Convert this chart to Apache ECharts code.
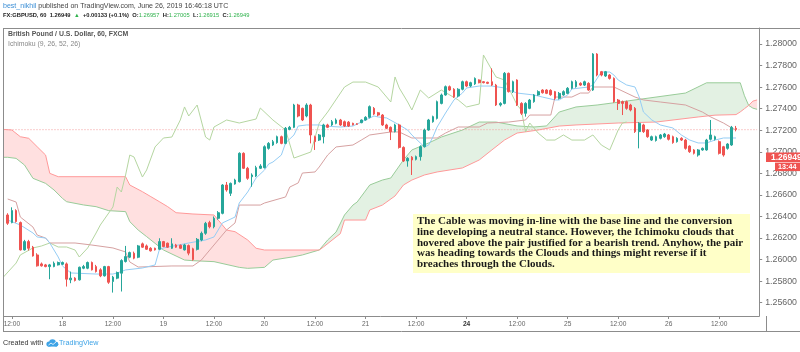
<!DOCTYPE html>
<html><head><meta charset="utf-8">
<script src="https://cdn.jsdelivr.net/npm/echarts@6/dist/echarts.min.js"></script>
<style>html,body{margin:0;padding:0;background:#fff}#c{width:800px;height:352px}</style>
</head><body><div id="c"></div>
<script>
// ---- categories (hourly bars, weekend skipped) ----
const dayHours = [['17',10,23],['18',0,23],['19',0,23],['20',0,23],['21',0,21],['23',22,23],['24',0,23],['25',0,23],['26',0,21]];
const categories = [];
dayHours.forEach(([d,a,b]) => { for (let h=a; h<=b; h++) categories.push(d + ' ' + String(h).padStart(2,'0') + ':00'); });

const xTickIndex  = [2,14,26,38,50,62,74,86,98,110,122,134,146,158,170];
const xTickLabels = ['12:00','18','12:00','19','12:00','20','12:00','21','12:00','24','12:00','25','12:00','26','12:00'];
const yTicks = [1.256,1.258,1.260,1.262,1.264,1.266,1.268,1.270,1.272,1.274,1.276,1.278,1.280];
const yMin = 1.254768, yMax = 1.281484;

// ---- candles [open, close, low, high], first one at bar index 1 ----
const firstCandle = 1;
const candles = [
[1.26414,1.26337,1.26322,1.26430],[1.26343,1.26455,1.26337,1.26485],[1.26455,1.26353,1.26343,1.26467],[1.26343,1.26090,1.26084,1.26353],
[1.26090,1.26167,1.26084,1.26183],[1.26167,1.26105,1.26084,1.26183],[1.26115,1.26034,1.26028,1.26127],[1.26043,1.25942,1.25935,1.26059],
[1.25960,1.25942,1.25935,1.25973],[1.25951,1.25935,1.25929,1.25960],[1.25935,1.25951,1.25818,1.25960],[1.25935,1.25966,1.25929,1.25982],
[1.25951,1.25973,1.25945,1.25982],[1.25957,1.25973,1.25951,1.25982],[1.25960,1.25818,1.25750,1.25973],[1.25812,1.25828,1.25781,1.25889],
[1.25828,1.25806,1.25797,1.25837],[1.25812,1.25929,1.25806,1.25935],[1.25920,1.25935,1.25911,1.25951],[1.25920,1.25973,1.25911,1.25982],
[1.25973,1.25905,1.25899,1.25982],[1.25935,1.25889,1.25880,1.25951],[1.25905,1.25849,1.25837,1.25920],[1.25849,1.25935,1.25843,1.25942],
[1.25935,1.25790,1.25775,1.25942],[1.25797,1.25837,1.25694,1.25849],[1.25828,1.25880,1.25818,1.25889],[1.25874,1.25991,1.25704,1.26003],
[1.25982,1.26028,1.25973,1.26127],[1.26022,1.26065,1.26013,1.26074],[1.26059,1.26013,1.26003,1.26074],[1.26022,1.26127,1.26013,1.26136],
[1.26146,1.26115,1.26109,1.26158],[1.26127,1.26096,1.26090,1.26140],[1.26105,1.26081,1.26075,1.26115],[1.26105,1.26090,1.26084,1.26111],
[1.26096,1.26167,1.26090,1.26198],[1.26167,1.26121,1.26115,1.26173],[1.26152,1.26115,1.26109,1.26158],[1.26105,1.26146,1.26099,1.26198],
[1.26136,1.26115,1.26109,1.26146],[1.26133,1.26105,1.26099,1.26140],[1.26090,1.26136,1.26084,1.26146],[1.26130,1.26060,1.26040,1.26140],
[1.26100,1.26000,1.25990,1.26110],[1.26095,1.26188,1.26085,1.26200],[1.26182,1.26244,1.26170,1.26260],[1.26244,1.26336,1.26230,1.26350],
[1.26343,1.26305,1.26290,1.26360],[1.26305,1.26383,1.26290,1.26400],[1.26383,1.26435,1.26370,1.26450],[1.26429,1.26692,1.26420,1.26700],
[1.26692,1.26646,1.26630,1.26720],[1.26615,1.26707,1.26590,1.26715],[1.26701,1.26738,1.26695,1.26750],[1.26723,1.26986,1.26715,1.26995],
[1.26986,1.26847,1.26840,1.26995],[1.26847,1.26754,1.26740,1.26860],[1.26769,1.26785,1.26676,1.26800],[1.26775,1.26853,1.26765,1.26870],
[1.26847,1.26868,1.26840,1.26885],[1.26853,1.27047,1.26845,1.27060],[1.27032,1.27078,1.27020,1.27090],[1.27063,1.27094,1.27055,1.27110],
[1.27085,1.27140,1.27075,1.27150],[1.27140,1.27078,1.27070,1.27150],[1.27078,1.27218,1.27070,1.27230],[1.27208,1.27227,1.27200,1.27240],
[1.27227,1.27434,1.27220,1.27445],[1.27434,1.27332,1.27320,1.27445],[1.27403,1.27295,1.27285,1.27410],[1.27332,1.27434,1.27320,1.27450],
[1.27434,1.27156,1.27078,1.27445],[1.27140,1.27094,1.27017,1.27150],[1.27109,1.27156,1.27100,1.27165],[1.27140,1.27249,1.27078,1.27260],
[1.27249,1.27227,1.27220,1.27260],[1.27249,1.27279,1.27240,1.27295],[1.27264,1.27295,1.27255,1.27310],[1.27295,1.27249,1.27240,1.27305],
[1.27279,1.27239,1.27230,1.27290],[1.27275,1.27239,1.27230,1.27285],[1.27264,1.27250,1.27245,1.27270],[1.27260,1.27255,1.27250,1.27265],
[1.27270,1.27295,1.27265,1.27300],[1.27295,1.27320,1.27290,1.27330],[1.27320,1.27419,1.27310,1.27430],[1.27403,1.27350,1.27340,1.27415],
[1.27362,1.27341,1.27330,1.27370],[1.27341,1.27249,1.27240,1.27350],[1.27249,1.27218,1.27210,1.27260],[1.27227,1.27187,1.27109,1.27235],
[1.27187,1.27249,1.27180,1.27260],[1.27249,1.27041,1.27030,1.27260],[1.27041,1.26915,1.26905,1.27050],[1.26915,1.26940,1.26862,1.26950],
[1.26950,1.26924,1.26785,1.26960],[1.26930,1.26955,1.26920,1.26965],[1.26955,1.27047,1.26918,1.27060],[1.27047,1.27202,1.27040,1.27215],
[1.27202,1.27295,1.27195,1.27305],[1.27279,1.27326,1.27270,1.27335],[1.27310,1.27465,1.27300,1.27475],[1.27449,1.27527,1.27440,1.27540],
[1.27527,1.27604,1.27520,1.27615],[1.27604,1.27573,1.27565,1.27615],[1.27580,1.27510,1.27500,1.27590],[1.27517,1.27580,1.27505,1.27590],
[1.27580,1.27650,1.27570,1.27660],[1.27650,1.27610,1.27600,1.27660],[1.27610,1.27641,1.27600,1.27650],[1.27630,1.27681,1.27620,1.27690],
[1.27666,1.27641,1.27635,1.27672],[1.27650,1.27641,1.27635,1.27655],[1.27645,1.27635,1.27628,1.27650],[1.27650,1.27619,1.27610,1.27774],
[1.27619,1.27434,1.27425,1.27630],[1.27434,1.27449,1.27420,1.27460],[1.27449,1.27728,1.27440,1.27740],[1.27728,1.27558,1.27550,1.27735],
[1.27558,1.27650,1.27545,1.27660],[1.27666,1.27434,1.27425,1.27672],[1.27449,1.27357,1.27341,1.27460],[1.27357,1.27449,1.27326,1.27460],
[1.27403,1.27480,1.27395,1.27490],[1.27465,1.27527,1.27455,1.27535],[1.27527,1.27558,1.27520,1.27570],[1.27573,1.27548,1.27540,1.27580],
[1.27573,1.27542,1.27535,1.27580],[1.27570,1.27530,1.27520,1.27580],[1.27558,1.27496,1.27480,1.27565],[1.27496,1.27542,1.27485,1.27555],
[1.27527,1.27558,1.27520,1.27570],[1.27542,1.27589,1.27535,1.27600],[1.27589,1.27650,1.27580,1.27660],[1.27604,1.27650,1.27595,1.27665],
[1.27635,1.27619,1.27610,1.27645],[1.27619,1.27650,1.27610,1.27660],[1.27635,1.27573,1.27565,1.27645],[1.27573,1.27907,1.27565,1.27915],
[1.27907,1.27712,1.27700,1.27915],[1.27743,1.27712,1.27700,1.27750],[1.27703,1.27743,1.27695,1.27750],[1.27712,1.27681,1.27670,1.27720],
[1.27681,1.27465,1.27455,1.27690],[1.27480,1.27449,1.27388,1.27490],[1.27465,1.27449,1.27341,1.27475],[1.27465,1.27403,1.27390,1.27475],
[1.27434,1.27388,1.27375,1.27445],[1.27403,1.27187,1.27175,1.27415],[1.27187,1.27264,1.27032,1.27275],[1.27249,1.27187,1.27175,1.27260],
[1.27202,1.27140,1.27130,1.27210],[1.27109,1.27140,1.27100,1.27150],[1.27105,1.27140,1.27095,1.27150],[1.27125,1.27156,1.27115,1.27165],
[1.27140,1.27165,1.27130,1.27175],[1.27156,1.27116,1.27105,1.27165],[1.27140,1.27085,1.27075,1.27150],[1.27094,1.27125,1.27085,1.27135],
[1.27125,1.27109,1.27100,1.27135],[1.27109,1.27032,1.27020,1.27120],[1.27053,1.27001,1.26990,1.27060],[1.27017,1.26986,1.26975,1.27025],
[1.26970,1.27017,1.26955,1.27025],[1.27017,1.27032,1.27010,1.27040],[1.27017,1.27109,1.27010,1.27120],[1.27116,1.27156,1.27105,1.27295],
[1.27116,1.27140,1.27105,1.27150],[1.27094,1.26986,1.26975,1.27105],[1.27047,1.26970,1.26955,1.27055],[1.27032,1.27072,1.27020,1.27080],
[1.27063,1.27227,1.27055,1.27240],[1.27218,1.27208,1.27190,1.27240]
];

// ---- Ichimoku lines, [bar index, price] vertices ----
const conversionLine = [[1,1.26367],[4,1.26321],[7,1.26247],[8,1.26210],[10,1.26200],[11,1.26154],[13,1.26024],[14,1.25941],[16,1.25876],[22,1.25866],[26,1.25866],[27,1.25876],[29,1.25904],[33,1.25922],[36,1.25950],[37,1.26089],[38,1.26108],[44,1.26154],[48,1.26182],[50,1.26210],[52,1.26340],[55,1.26395],[56,1.26525],[58,1.26627],[60,1.26757],[62,1.26831],[63,1.26887],[64,1.26905],[66,1.26970],[67,1.27082],[69,1.27156],[70,1.27239],[72,1.27249],[75,1.27249],[76,1.27239],[80,1.27230],[83,1.27239],[86,1.27295],[88,1.27332],[89,1.27323],[91,1.27314],[94,1.27249],[96,1.27202],[97,1.27156],[99,1.27082],[100,1.27045],[101,1.27063],[102,1.27137],[103,1.27230],[105,1.27360],[107,1.27481],[109,1.27545],[110,1.27592],[113,1.27610],[116,1.27610],[119,1.27592],[120,1.27573],[122,1.27545],[126,1.27527],[128,1.27508],[131,1.27481],[132,1.27481],[134,1.27527],[135,1.27583],[139,1.27601],[140,1.27620],[142,1.27740],[144,1.27740],[145,1.27712],[146,1.27666],[148,1.27620],[150,1.27601],[151,1.27508],[152,1.27369],[154,1.27295],[156,1.27249],[159,1.27221],[161,1.27156],[163,1.27109],[165,1.27082],[167,1.27082],[169,1.27109],[171,1.27128],[174,1.27128]];
const baseLine = [[1,1.26562],[3,1.26534],[4,1.26395],[7,1.26302],[8,1.26228],[10,1.26200],[11,1.26154],[17,1.26154],[21,1.26135],[26,1.26108],[29,1.26071],[30,1.25978],[32,1.25931],[40,1.25941],[45,1.25941],[47,1.25996],[49,1.26089],[53,1.26275],[55,1.26340],[56,1.26506],[61,1.26506],[62,1.26525],[67,1.26581],[68,1.26673],[70,1.26711],[71,1.26803],[74,1.26813],[75,1.26859],[77,1.26970],[79,1.27045],[83,1.27063],[85,1.27109],[87,1.27156],[92,1.27184],[94,1.27184],[97,1.27128],[103,1.27128],[105,1.27174],[108,1.27230],[113,1.27230],[115,1.27267],[120,1.27276],[124,1.27295],[125,1.27341],[130,1.27341],[131,1.27508],[135,1.27508],[137,1.27545],[139,1.27545],[140,1.27601],[145,1.27601],[150,1.27508],[152,1.27481],[156,1.27462],[162,1.27434],[166,1.27369],[168,1.27323],[171,1.27267],[173,1.27221],[174,1.27202]];
const laggingSpan = [[0,1.25839],[3,1.25968],[4,1.26043],[7,1.26108],[9,1.26126],[11,1.26154],[13,1.26117],[15,1.26117],[17,1.26089],[18,1.26024],[20,1.26108],[22,1.26247],[23,1.26321],[26,1.26488],[27,1.26673],[28,1.26627],[29,1.26785],[30,1.26970],[31,1.26952],[33,1.26766],[34,1.26831],[36,1.27045],[38,1.27128],[40,1.27137],[42,1.27295],[43,1.27416],[44,1.27332],[46,1.27434],[48,1.27137],[49,1.27109],[50,1.27230],[53,1.27295],[56,1.27267],[60,1.27304],[61,1.27406],[64,1.27295],[67,1.27202],[69,1.26942],[73,1.26998],[75,1.27267],[77,1.27369],[81,1.27601],[83,1.27647],[86,1.27647],[89,1.27601],[92,1.27462],[93,1.27694],[94,1.27592],[96,1.27462],[97,1.27388],[99,1.27573],[101,1.27499],[104,1.27573],[108,1.27481],[110,1.27416],[113,1.27443],[114,1.27898],[116,1.27759],[117,1.27694],[119,1.27666],[120,1.27592],[122,1.27434],[123,1.27388],[124,1.27184],[125,1.27267],[127,1.27174],[129,1.27109],[131,1.27109],[133,1.27156],[135,1.27109],[138,1.27109],[140,1.27156],[142,1.27063],[144,1.27017],[146,1.27202],[147,1.27267],[148,1.27276]];
const leadingSpanA = [[0,1.26949],[1,1.26949],[3,1.26939],[5,1.26877],[7,1.26754],[10,1.26707],[12,1.26646],[14,1.26568],[15,1.26537],[19,1.26507],[22,1.26491],[25,1.26454],[29,1.26445],[30,1.26352],[32,1.26274],[34,1.26213],[36,1.26151],[38,1.26089],[41,1.26033],[43,1.25996],[45,1.25990],[50,1.25981],[56,1.25928],[58,1.25919],[62,1.25928],[64,1.25996],[69,1.26027],[71,1.26043],[75,1.26089],[77,1.26182],[79,1.26256],[81,1.26414],[83,1.26506],[84,1.26534],[87,1.26692],[90,1.26738],[92,1.26757],[95,1.26924],[97,1.27017],[101,1.27082],[104,1.27137],[109,1.27202],[113,1.27276],[117,1.27276],[122,1.27240],[126,1.27230],[129,1.27240],[132,1.27369],[136,1.27416],[141,1.27434],[150,1.27481],[162,1.27545],[167,1.27640],[175,1.27640],[176,1.27520],[177,1.27430],[178,1.27405],[179,1.27394]];
const leadingSpanB = [[0,1.27208],[2,1.27202],[4,1.27140],[6,1.27125],[8,1.27047],[10,1.26970],[11,1.26800],[13,1.26769],[29,1.26769],[30,1.26692],[33,1.26630],[35,1.26584],[37,1.26538],[39,1.26491],[41,1.26435],[45,1.26423],[50,1.26414],[53,1.26274],[55,1.26259],[58,1.26182],[60,1.26105],[62,1.26089],[75,1.26089],[76,1.26117],[79,1.26210],[80,1.26240],[81,1.26367],[86,1.26367],[87,1.26460],[90,1.26506],[93,1.26590],[95,1.26692],[97,1.26738],[100,1.26785],[103,1.26813],[109,1.26850],[113,1.26924],[116,1.27017],[119,1.27109],[122,1.27174],[127,1.27202],[132,1.27239],[136,1.27249],[146,1.27267],[155,1.27276],[165,1.27323],[169,1.27340],[174,1.27345],[175,1.27370],[176,1.27400],[177,1.27430],[178,1.27470],[179,1.27481]];
// cloud segments between crossings: [fromIndex, toIndex, bullish?]
const cloudSegments = [[0,75,false],[75,177,true],[177,179,false]];
const lastPriceLine = [1.27205];
const lastPrice = 1.26949;
const countdown = '13:44';
const noteLines = [
 'The Cable was moving in-line with the base line and the conversion',
 'line developing a neutral stance. However, the Ichimoku clouds that',
 'hovered above the pair justified for a bearish trend. Anyhow, the pair',
 'was heading towards the Clouds and things might reverse if it',
 'breaches through the Clouds.'
];

// ---- chart ----
const UP = '#26a69a', DOWN = '#ef5350';
const FONT = '"Liberation Sans", Arial, sans-serif';
const chart = echarts.init(document.getElementById('c'), null, {renderer:'canvas', width:800, height:352});
const tickSet = new Set(xTickIndex);
const tickLabel = {}; xTickIndex.forEach((ix,k)=>tickLabel[ix]=xTickLabels[k]);
const lastIndex = categories.length - 1;

function pick(line, a, b){ return line.filter(p => p[0] >= a && p[0] <= b); }

const lineSeries = (data, color, z, type) => ({
  type:'line', data, symbol:'none', silent:true, z, animation:false,
  lineStyle:{color, width:1, type: type || 'solid'}, clip:true
});

const option = {
  animation:false,
  backgroundColor:'#ffffff',
  grid:{left:1.38, right:34, top:28, bottom:36, containLabel:false},
  xAxis:{
    type:'category', data:categories, boundaryGap:true,
    axisLine:{show:true, lineStyle:{color:'#8c8c8c', width:1}},
    axisTick:{show:true, alignWithLabel:true, length:3, interval:(i)=>tickSet.has(i), lineStyle:{color:'#8c8c8c'}},
    axisLabel:{interval:(i)=>tickSet.has(i), formatter:(v,i)=> i===110 ? '{b|24}' : (tickLabel[i]||''),
      fontSize:6.6, color:'#666', margin:5, fontFamily:FONT,
      rich:{b:{fontWeight:'bold', color:'#333', fontSize:6.6, fontFamily:FONT}}},
    splitLine:{show:false}
  },
  yAxis:{
    type:'value', position:'right', min:yMin, max:yMax, scale:true,
    axisLine:{show:true, lineStyle:{color:'#8c8c8c', width:1}},
    axisTick:{show:true, length:3, customValues:yTicks, lineStyle:{color:'#8c8c8c'}},
    axisLabel:{customValues:yTicks, formatter:(v)=>v.toFixed(5), fontSize:8.8, color:'#666', margin:6, fontFamily:FONT},
    splitLine:{show:false}
  },
  series:[
    { type:'custom', silent:true, z:1, clip:true,
      data:[[0, yMin]], encode:{x:0, y:1},
      renderItem:(params, api) => {
        const children = cloudSegments.map(([a,b,bull]) => {
          const top = bull ? pick(leadingSpanA,a,b) : pick(leadingSpanB,a,b);
          const bot = bull ? pick(leadingSpanB,a,b) : pick(leadingSpanA,a,b);
          const pts = top.concat(bot.slice().reverse()).map(p => api.coord(p));
          return {type:'polygon', shape:{points:pts}, style:{fill: bull ? 'rgba(0,128,0,0.11)' : 'rgba(255,0,0,0.12)', stroke:'none'}};
        });
        return {type:'group', children};
      }
    },
    lineSeries(leadingSpanA, '#99cc99', 2),
    lineSeries(leadingSpanB, '#ff9999', 2),
    lineSeries(lastPriceLine.length ? [[0,lastPriceLine[0]],[lastIndex,lastPriceLine[0]]] : [], '#f29a9a', 2, [1,2]),
    lineSeries(laggingSpan, '#b5d6a1', 3),
    lineSeries(baseLine, '#d6a1a1', 3),
    lineSeries(conversionLine, '#95cdf5', 3),
    { type:'candlestick', z:5, silent:true,
      data: candles.map((c,k)=>[firstCandle+k, c[0], c[1], c[2], c[3]]),
      encode:{x:0, y:[1,2,3,4]},
      barWidth:2.2,
      itemStyle:{color:UP, color0:DOWN, borderColor:UP, borderColor0:DOWN, borderWidth:1}
    }
  ]
};
chart.setOption(option);

const py = chart.convertToPixel({yAxisIndex:0}, lastPrice);
const g = [];
// mask the bar area left of the frame
g.push({type:'rect', shape:{x:0,y:26,width:3,height:295}, style:{fill:'#fff'}, z:50});
// frame
const FR = '#8c8c8c';
g.push({type:'line', shape:{x1:3,y1:28.5,x2:800,y2:28.5}, style:{stroke:FR, lineWidth:1}, z:60});
g.push({type:'line', shape:{x1:3.5,y1:28,x2:3.5,y2:332}, style:{stroke:FR, lineWidth:1}, z:60});
g.push({type:'line', shape:{x1:3,y1:331.5,x2:800,y2:331.5}, style:{stroke:FR, lineWidth:1}, z:60});
g.push({type:'line', shape:{x1:766.5,y1:316,x2:766.5,y2:332}, style:{stroke:FR, lineWidth:1}, z:60});
// header
g.push({type:'text', x:3, y:6, z:60, style:{text:'{u|best_nikhil}{t| published on TradingView.com, June 26, 2019 16:46:18 UTC}',
  verticalAlign:'middle', textVerticalAlign:'middle',
  rich:{u:{fill:'#3c8fd6', fontSize:7.05, fontFamily:FONT}, t:{fill:'#444', fontSize:7.05, fontFamily:FONT}}}});
g.push({type:'text', x:3, y:15.5, z:60, style:{text:'{b|FX:GBPUSD, 60} {n|1.26949} {g|▲} {b|+0.00133 (+0.1%)} {b|O:}{g|1.26957} {b|H:}{g|1.27005} {b|L:}{g|1.26915} {b|C:}{g|1.26949}',
  verticalAlign:'middle', textVerticalAlign:'middle',
  rich:{b:{fill:'#222', fontSize:5.75, fontWeight:'bold', fontFamily:FONT}, n:{fill:'#222', fontSize:5.75, fontWeight:'bold', fontFamily:FONT}, g:{fill:'#2fb24c', fontSize:5.75, fontFamily:FONT}}}});
g.push({type:'text', x:8, y:34.3, z:60, style:{text:'British Pound / U.S. Dollar, 60, FXCM', fill:'#555', font:'bold 6.9px '+FONT, verticalAlign:'middle', textVerticalAlign:'middle'}});
g.push({type:'text', x:8, y:43.6, z:60, style:{text:'Ichimoku (9, 26, 52, 26)', fill:'#888', font:'6.9px '+FONT, verticalAlign:'middle', textVerticalAlign:'middle'}});
// price & countdown labels on the price axis
g.push({type:'rect', shape:{x:766, y:py-4.7, width:34, height:9.4}, style:{fill:DOWN}, z:70});
g.push({type:'text', x:771, y:py, z:71, style:{text:lastPrice.toFixed(5), fill:'#fff', font:'bold 8.5px '+FONT, verticalAlign:'middle', textVerticalAlign:'middle'}});
g.push({type:'rect', shape:{x:775, y:py+5.3, width:25, height:8.5}, style:{fill:DOWN}, z:70});
g.push({type:'text', x:778, y:py+9.6, z:71, style:{text:countdown, fill:'#fff', font:'bold 7.2px '+FONT, verticalAlign:'middle', textVerticalAlign:'middle'}});
// note box
g.push({type:'rect', shape:{x:413, y:214, width:337, height:59}, style:{fill:'#ffffc8'}, z:80});
noteLines.forEach((t,k)=>{
  g.push({type:'text', x:417, y:221.5 + k*10.7, z:81, style:{text:t, fill:'#1a1a1a', font:'bold 11px "Liberation Serif", "Times New Roman", serif', verticalAlign:'middle', textVerticalAlign:'middle'}});
});
// footer
g.push({type:'text', x:3, y:343.5, z:60, style:{text:'Created with', fill:'#333', font:'7.2px '+FONT, verticalAlign:'middle', textVerticalAlign:'middle'}});
g.push({type:'group', x:46, y:339, z:60, children:[
  {type:'circle', shape:{cx:3, cy:5, r:2.6}, style:{fill:'#3ea3e6'}},
  {type:'circle', shape:{cx:6.5, cy:3.5, r:3.3}, style:{fill:'#3ea3e6'}},
  {type:'circle', shape:{cx:10, cy:5.2, r:2.4}, style:{fill:'#3ea3e6'}},
  {type:'rect', shape:{x:2, y:5, width:9, height:2.6}, style:{fill:'#3ea3e6'}},
  {type:'polyline', shape:{points:[[2.5,6],[5,4],[7,5.5],[10,3]]}, style:{stroke:'#fff', lineWidth:0.8, fill:'none'}}
]});
g.push({type:'text', x:59, y:343.5, z:60, style:{text:'TradingView', fill:'#3ea3e6', font:'7.2px '+FONT, verticalAlign:'middle', textVerticalAlign:'middle'}});
chart.setOption({graphic:g});
</script>
</body></html>
